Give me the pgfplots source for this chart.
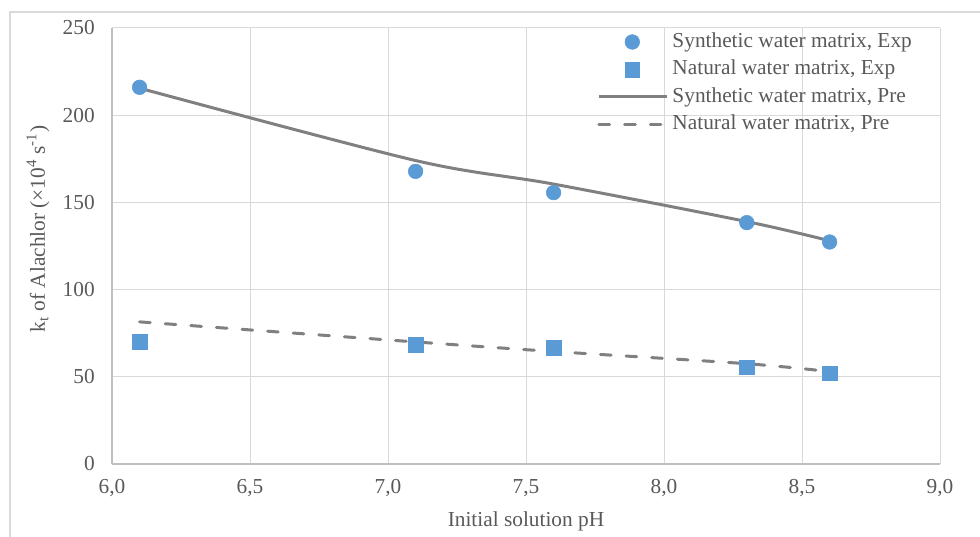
\documentclass[border=0pt]{standalone}
\usepackage{pgfplots}
\pgfplotsset{compat=1.18}
\usepackage{fontspec}
\setmainfont{Liberation Serif}
\definecolor{txt}{HTML}{595959}
\definecolor{grd}{HTML}{D9D9D9}
\definecolor{axl}{HTML}{BFBFBF}
\definecolor{mblue}{HTML}{5B9BD5}
\definecolor{lgray}{HTML}{808080}
\begin{document}
\begin{tikzpicture}
\begin{axis}[
  scale only axis, width=621pt, height=327pt,
  xmin=6, xmax=9, ymin=0, ymax=250,
  xtick={6,6.5,7,7.5,8,8.5,9}, ytick={0,50,100,150,200,250},
  grid=major, major grid style={grd, line width=0.75pt},
  axis x line*=bottom, axis y line*=left,
  axis line style={axl, line width=1pt, -},
  major tick length=0pt, tick style={draw=none},
  /pgf/number format/assume math mode=true,
  ticklabel style={font=\fontsize{16}{19}\selectfont, text=txt},
  xticklabel style={/pgf/number format/use comma, /pgf/number format/fixed, /pgf/number format/fixed zerofill, /pgf/number format/precision=1, anchor=center, yshift=-18pt},
  yticklabel style={anchor=east, inner sep=0pt, xshift=-12.75pt},
  xlabel={Initial solution pH},
  ylabel={k\textsubscript{t} of Alachlor (×10\textsuperscript{4} s\textsuperscript{-1})},
  label style={font=\fontsize{16}{19}\selectfont, text=txt},
  xlabel style={at={(axis description cs:0.5,-0.1307)}, anchor=center},
  ylabel style={at={(axis description cs:-0.0894,0.539)}, anchor=center},
  legend style={draw=none, fill=none, at={(axis description cs:0.586,0.993)}, anchor=north west,
    font=\fontsize{16}{19}\selectfont, text=txt, inner sep=0pt, row sep=4.6pt, column sep=2pt,
    nodes={inner sep=1pt, text height=11pt, text depth=3pt, text=txt}},
  legend cell align=left,
  legend image code/.code={\draw[mark repeat=2,mark phase=2,#1] plot coordinates {(0pt,0pt) (25pt,0pt) (51pt,0pt)};},
]
\addplot[only marks, mark=*, mark size=5.5pt, color=mblue, mark options={draw=mblue, fill=mblue}]
  coordinates {(6.1,216) (7.1,167.8) (7.6,155.6) (8.3,138.4) (8.6,127.3)};
\addlegendentry{Synthetic water matrix, Exp}
\addplot[only marks, mark=square*, mark size=5.5pt, color=mblue, mark options={draw=mblue, fill=mblue}]
  coordinates {(6.1,70) (7.1,68.4) (7.6,66.5) (8.3,55.4) (8.6,52)};
\addlegendentry{Natural water matrix, Exp}
\addplot[color=lgray, line width=2.25pt, smooth, no marks]
  coordinates {(6.1,215.5) (7.1,174) (7.6,160.5) (8.3,139) (8.6,128)};
\addlegendentry{Synthetic water matrix, Pre}
\addplot[color=lgray, line width=2.25pt, smooth, no marks, line cap=round, dash pattern=on 8pt off 11.25pt]
  coordinates {(6.1,81.5) (7.1,70) (7.6,64.5) (8.3,57.5) (8.6,53)};
\addlegendentry{Natural water matrix, Pre}
\end{axis}
\draw[grd, line width=1.1pt] (-76.5pt,-60pt) -- (-76.5pt,339pt) -- (660pt,339pt);
\pgfresetboundingbox
\path[use as bounding box] (-84pt,-54pt) rectangle (651pt,348pt);
\end{tikzpicture}
\end{document}
